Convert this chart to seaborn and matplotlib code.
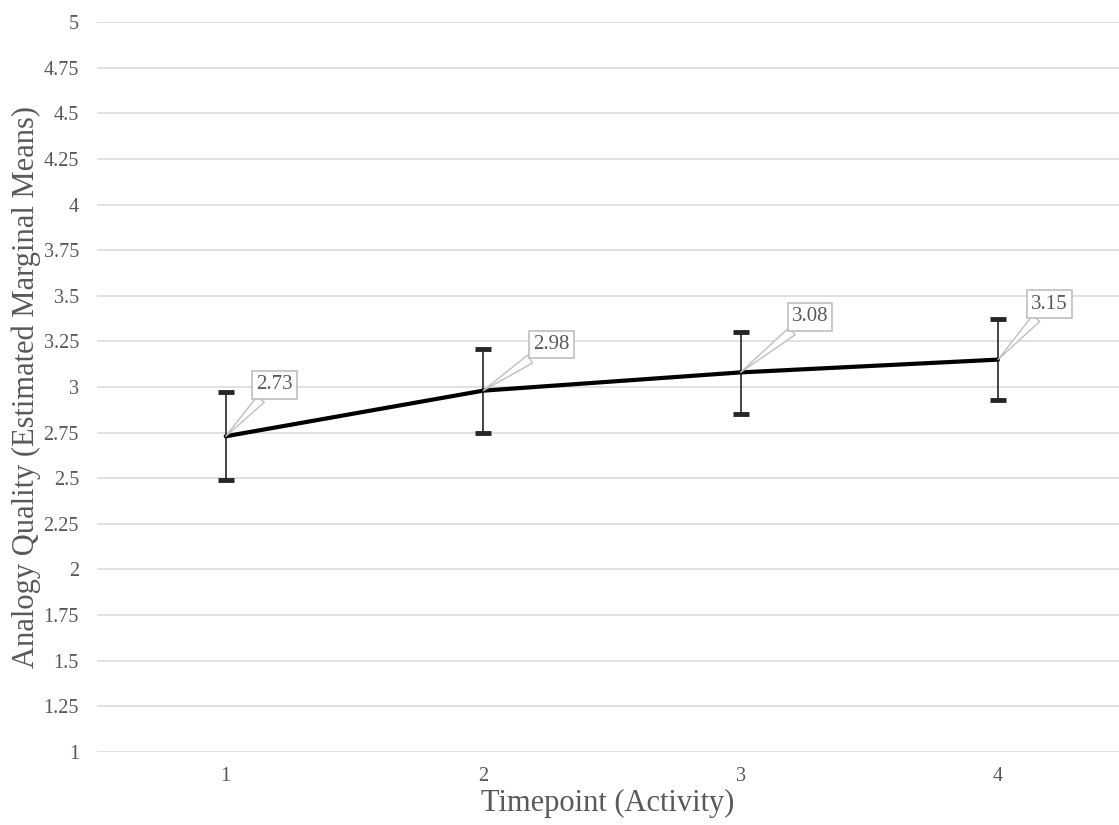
import matplotlib
matplotlib.use("Agg")
import matplotlib.pyplot as plt
import seaborn as sns
import pandas as pd

# Estimated marginal means per timepoint, with CI bounds
timepoints = [1, 2, 3, 4]
means = [2.73, 2.98, 3.08, 3.15]
lower = [2.49, 2.75, 2.85, 2.93]
upper = [2.97, 3.21, 3.30, 3.37]
point_labels = ["2.73", "2.98", "3.08", "3.15"]
y_ticks = [1, 1.25, 1.5, 1.75, 2, 2.25, 2.5, 2.75, 3, 3.25, 3.5, 3.75, 4, 4.25, 4.5, 4.75, 5]

df = pd.DataFrame({"timepoint": timepoints, "mean": means})

sns.set_style("white")
plt.rcParams["font.family"] = ["Liberation Serif", "DejaVu Serif"]
text_col = "#595959"
grid_col = "#d9d9d9"

fig = plt.figure(figsize=(11.19, 8.25), dpi=100)
ax = fig.add_axes([0.0867, 0.0885, 0.9133, 0.8848])

for t in y_ticks:
    ax.axhline(t, color=grid_col, lw=1.1, zorder=0)

err_lo = [m - l for m, l in zip(means, lower)]
err_hi = [u - m for m, u in zip(means, upper)]
ax.errorbar(timepoints, means, yerr=[err_lo, err_hi], fmt="none",
            ecolor="#262626", elinewidth=1.2, capsize=6, capthick=3.5, zorder=2)

sns.lineplot(data=df, x="timepoint", y="mean", color="black", lw=3, ax=ax, zorder=3)

offsets = [(35, 37), (49, 33), (50, 40), (37, 40)]
for x, y, lab, off in zip(timepoints, means, point_labels, offsets):
    ax.annotate(lab, xy=(x, y), xytext=off, textcoords="offset points",
                ha="center", va="center", fontsize=15, color=text_col,
                bbox=dict(boxstyle="square,pad=0.2", fc="white", ec="#bfbfbf", lw=1.2),
                arrowprops=dict(arrowstyle="wedge,tail_width=0.45,shrink_factor=0.5",
                                fc="white", ec="#bfbfbf", lw=1.0, shrinkA=0, shrinkB=0),
                zorder=4)

ax.set_xlim(0.5, 4.47)
ax.set_ylim(1, 5)
ax.set_xticks(timepoints)
ax.set_xticklabels([str(t) for t in timepoints])
ax.set_yticks(y_ticks)
ax.set_yticklabels([f"{t:g}" for t in y_ticks])
ax.tick_params(axis="both", length=0, labelsize=14.5, labelcolor=text_col)
ax.tick_params(axis="y", pad=13)
ax.tick_params(axis="x", pad=11)
for s in ax.spines.values():
    s.set_visible(False)

ax.set_xlabel("Timepoint (Activity)", fontsize=22, color=text_col, labelpad=2)
ax.set_ylabel("Analogy Quality (Estimated Marginal Means)", fontsize=22, color=text_col, labelpad=2)

fig.savefig("out.png", dpi=100)
